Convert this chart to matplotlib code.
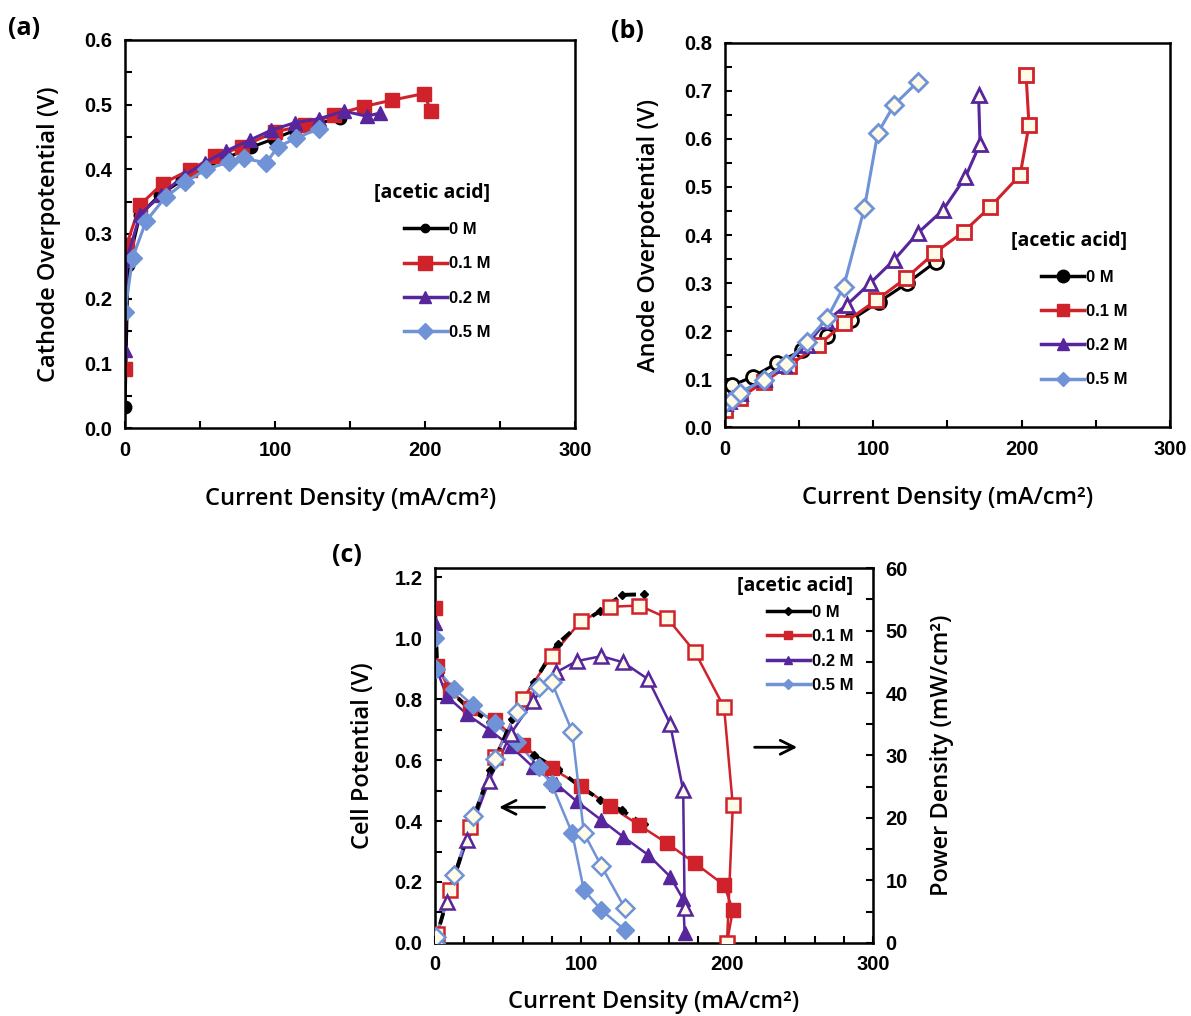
import matplotlib
matplotlib.use("Agg")
import matplotlib.pyplot as plt
from matplotlib.lines import Line2D
from matplotlib.ticker import MultipleLocator, FormatStrFormatter

# ---------------- data ----------------
labels = ["0 M", "0.1 M", "0.2 M", "0.5 M"]
colors = ["#000000", "#d0222b", "#57259c", "#6f93d6"]
markers = ["o", "s", "^", "D"]

# (a) cathode overpotential
a_x0 = [0, 2, 10, 23, 38, 53, 68, 84, 99, 113, 128, 143]
a_y0 = [0.033, 0.252, 0.33, 0.36, 0.383, 0.402, 0.418, 0.434, 0.447, 0.46, 0.47, 0.48]
a_x1 = [0, 1, 10, 25, 43, 60, 78, 100, 120, 139, 159, 178, 199, 204]
a_y1 = [0.092, 0.283, 0.345, 0.378, 0.399, 0.42, 0.435, 0.458, 0.468, 0.484, 0.497, 0.507, 0.517, 0.49]
a_x2 = [0, 1, 10, 24, 39, 53, 67, 83, 97, 113, 129, 146, 161, 170]
a_y2 = [0.12, 0.26, 0.33, 0.36, 0.39, 0.41, 0.428, 0.445, 0.46, 0.472, 0.478, 0.49, 0.482, 0.487]
a_x3 = [0, 5, 14, 27, 40, 54, 69, 79, 94, 102, 114, 129]
a_y3 = [0.18, 0.263, 0.32, 0.357, 0.38, 0.40, 0.411, 0.417, 0.41, 0.435, 0.448, 0.463]

# (b) anode overpotential
b_x0 = [0, 5, 19, 35, 52, 69, 85, 104, 123, 142]
b_y0 = [0.068, 0.087, 0.105, 0.133, 0.16, 0.19, 0.223, 0.261, 0.30, 0.344]
b_x1 = [0, 10, 26, 43, 63, 80, 102, 122, 141, 161, 179, 199, 205, 203]
b_y1 = [0.036, 0.06, 0.094, 0.128, 0.17, 0.216, 0.264, 0.31, 0.362, 0.407, 0.459, 0.525, 0.629, 0.733]
b_x2 = [0, 3, 10, 26, 40, 55, 68, 82, 98, 114, 130, 147, 162, 172, 171]
b_y2 = [0.05, 0.055, 0.07, 0.10, 0.13, 0.17, 0.22, 0.254, 0.30, 0.348, 0.404, 0.452, 0.52, 0.59, 0.691]
b_x3 = [0, 5, 10, 26, 41, 55, 69, 80, 94, 103, 114, 130]
b_y3 = [0.05, 0.057, 0.071, 0.098, 0.132, 0.178, 0.227, 0.292, 0.456, 0.612, 0.671, 0.719]

# (c) cell potential and power density
c_x0 = [0, 1.5, 10, 23, 38, 53, 68, 84, 99, 113, 128, 143]
c_v0 = [1.10, 0.91, 0.83, 0.77, 0.725, 0.675, 0.615, 0.57, 0.515, 0.47, 0.435, 0.39]
c_p0 = [0, 1.4, 8.3, 17.7, 27.6, 35.8, 41.8, 47.9, 51.0, 53.1, 55.7, 55.8]
c_x1 = [0, 1.5, 10, 24, 41, 60, 80, 100, 120, 140, 159, 178, 198, 204, 200]
c_v1 = [1.10, 0.91, 0.83, 0.77, 0.73, 0.65, 0.573, 0.515, 0.448, 0.386, 0.327, 0.262, 0.19, 0.108, 0.0]
c_p1 = [0, 1.4, 8.4, 18.5, 29.8, 39.0, 46.0, 51.5, 53.8, 54.0, 52.0, 46.6, 37.7, 22.0, 0]
c_x2 = [0, 1, 8, 22, 37, 52, 67, 83, 97, 114, 129, 146, 161, 170, 171]
c_v2 = [1.05, 0.90, 0.81, 0.75, 0.70, 0.645, 0.578, 0.522, 0.465, 0.403, 0.348, 0.289, 0.218, 0.143, 0.033]
c_p2 = [0, 0.9, 6.5, 16.5, 25.9, 33.5, 38.7, 43.3, 45.1, 45.9, 44.9, 42.2, 35.1, 24.4, 5.6]
c_x3 = [0, 1, 13, 26, 41, 56, 71, 80, 94, 102, 114, 130]
c_v3 = [1.00, 0.90, 0.834, 0.78, 0.72, 0.66, 0.577, 0.52, 0.36, 0.173, 0.108, 0.043]
c_p3 = [0, 0.9, 10.8, 20.3, 29.5, 37.0, 41.0, 41.7, 33.8, 17.6, 12.3, 5.6]

a_series = [(a_x0, a_y0), (a_x1, a_y1), (a_x2, a_y2), (a_x3, a_y3)]
b_series = [(b_x0, b_y0), (b_x1, b_y1), (b_x2, b_y2), (b_x3, b_y3)]
c_series = [(c_x0, c_v0, c_p0), (c_x1, c_v1, c_p1), (c_x2, c_v2, c_p2), (c_x3, c_v3, c_p3)]

# ---------------- style ----------------
TICK = dict(family="Liberation Sans", weight="bold", size=14.5)
LAB = dict(family="Open Sans", weight="semibold", size=17)
LEG = dict(family="Liberation Sans", weight="bold", size=12)
LEGT = dict(family="Open Sans", weight="bold", size=14)
XLABEL = "Current Density (mA/cm²)"


def style_axes(ax, xmaj, xmin, ymaj, ymin):
    ax.xaxis.set_major_locator(MultipleLocator(xmaj))
    ax.xaxis.set_minor_locator(MultipleLocator(xmin))
    ax.yaxis.set_major_locator(MultipleLocator(ymaj))
    ax.yaxis.set_minor_locator(MultipleLocator(ymin))
    ax.yaxis.set_major_formatter(FormatStrFormatter("%.1f"))
    ax.tick_params(which="both", direction="in", length=5, width=1.5, pad=9)
    for s in ax.spines.values():
        s.set_linewidth(1.8)
    for t in ax.get_xticklabels() + ax.get_yticklabels():
        t.set_fontproperties(TICK)


def legend(ax, handles, x, y, spacing):
    lg = ax.legend(handles, labels, title="[acetic acid]", loc="upper left",
                   bbox_to_anchor=(x, y), frameon=False, prop=LEG,
                   title_fontproperties=LEGT, labelspacing=spacing,
                   handlelength=2.6, handletextpad=0.1)
    lg._legend_box.align = "right"
    lg.set_zorder(10)
    return lg


fig = plt.figure(figsize=(11.91, 10.16), dpi=100)

# ---------------- (a) ----------------
ax = fig.add_axes([0.105, 0.5787, 0.378, 0.382])
for (x, y), c, m in zip(a_series, colors, markers):
    ms = {"o": 9, "s": 10, "^": 10, "D": 9}[m]
    ax.plot(x, y, color=c, marker=m, ms=ms, lw=2.2, mec=c, mfc=c)
ax.set_xlim(0, 300)
ax.set_ylim(0, 0.6)
style_axes(ax, 100, 50, 0.1, 0.05)
ax.set_xlabel(XLABEL, fontdict=LAB, labelpad=20)
ax.set_ylabel("Cathode Overpotential (V)", fontdict=LAB, labelpad=17)
h = [Line2D([], [], color=c, marker=m, ms=s, lw=2.5) for c, m, s in
     zip(colors, markers, [6, 10, 8, 8])]
legend(ax, h, 0.52, 0.67, 1.15)

# ---------------- (b) ----------------
ax = fig.add_axes([0.6087, 0.5797, 0.3736, 0.378])
for (x, y), c, m in zip(b_series, colors, markers):
    ms = 10 if m != "D" else 9
    ax.plot(x, y, color=c, marker=m, ms=ms, lw=2.2, mec=c, mfc="#fffbe8", mew=2)
ax.set_xlim(0, 300)
ax.set_ylim(0, 0.8)
style_axes(ax, 100, 50, 0.1, 0.05)
ax.set_xlabel(XLABEL, fontdict=LAB, labelpad=20)
ax.set_ylabel("Anode Overpotential (V)", fontdict=LAB, labelpad=17)
h = [Line2D([], [], color=c, marker=m, ms=s, lw=2.5) for c, m, s in
     zip(colors, markers, [9, 9, 8, 7])]
legend(ax, h, 0.61, 0.55, 1.15)

# ---------------- (c) ----------------
ax = fig.add_axes([0.3652, 0.0719, 0.3678, 0.369])
ax2 = ax.twinx()
for i, ((x, v, p), c, m) in enumerate(zip(c_series, colors, markers)):
    if i == 0:
        # 0 M runs along the 0.1 M curve, showing as dashes between its markers
        ax.plot(x, v, color=c, marker="D", ms=4, lw=2.8, ls=(0, (3, 2)), zorder=2.5)
        ax2.plot(x, p, color=c, marker="D", ms=4, lw=2.8, ls=(0, (3, 2)), zorder=2.5)
    else:
        ms = 10 if m != "D" else 9
        ax.plot(x, v, color=c, lw=1.8, zorder=2)
        ax.plot(x, v, ls="none", marker=m, ms=ms, mec=c, mfc=c, zorder=3)
        ax2.plot(x, p, color=c, lw=1.8, zorder=2)
        ax2.plot(x, p, ls="none", marker=m, ms=ms, mec=c, mfc="#fffbe8",
                 mew=1.8, zorder=3)
ax.set_xlim(0, 300)
ax.set_ylim(0, 1.23)
ax2.set_ylim(0, 60)
style_axes(ax, 100, 20, 0.2, 0.1)
ax2.yaxis.set_major_locator(MultipleLocator(10))
ax2.yaxis.set_minor_locator(MultipleLocator(5))
ax2.tick_params(which="both", direction="in", length=5, width=1.5, pad=9)
for t in ax2.get_yticklabels():
    t.set_fontproperties(TICK)
ax.set_xlabel(XLABEL, fontdict=LAB, labelpad=11)
ax.set_ylabel("Cell Potential (V)", fontdict=LAB, labelpad=14)
ax2.set_ylabel("Power Density (mW/cm²)", fontdict=LAB, labelpad=16)
ax.annotate("", xy=(250, 0.642), xytext=(217, 0.642),
            arrowprops=dict(arrowstyle="->", lw=2, color="black", mutation_scale=25))
ax.annotate("", xy=(42, 0.445), xytext=(77, 0.445),
            arrowprops=dict(arrowstyle="->", lw=2, color="black", mutation_scale=25))
h = [Line2D([], [], color=c, marker=m, ms=s, lw=2.5) for c, m, s in
     zip(colors, ["D", "s", "^", "D"], [4, 6, 6, 5])]
legend(ax2, h, 0.655, 1.02, 0.56)

# panel letters
fig.text(0.007, 0.966, "(a)", family="Open Sans", weight="bold", size=18)
fig.text(0.513, 0.963, "(b)", family="Open Sans", weight="bold", size=18)
fig.text(0.279, 0.447, "(c)", family="Open Sans", weight="bold", size=18)

fig.savefig("out.png", dpi=100)
